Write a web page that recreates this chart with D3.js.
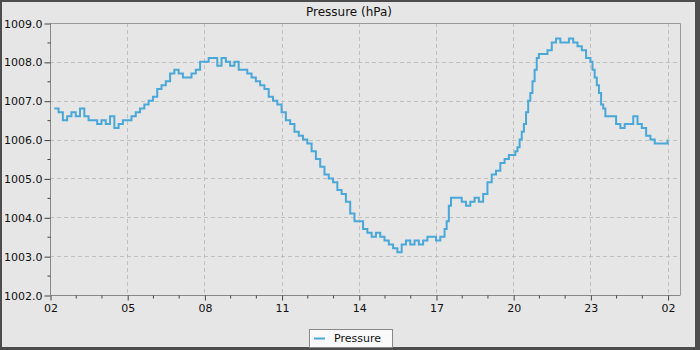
<!DOCTYPE html>
<html>
<head>
<meta charset="utf-8">
<script src="https://cdn.jsdelivr.net/npm/d3@7"></script>
<style>
  html, body { margin: 0; padding: 0; background: #4d4d4d; }
  svg { display: block; font-family: "DejaVu Sans", sans-serif; }
</style>
</head>
<body>
<svg id="chart" width="700" height="350"></svg>
<script>
// Station pressure, one reading every 10 minutes starting 02:10 (hPa)
const seriesName = "Pressure";
const chartTitle = "Pressure (hPa)";
const firstReadingMinute = 10;   // minutes after 02:00
const readingStepMinutes = 10;
const pressure = [
  1006.8, 1006.7, 1006.5, 1006.6, 1006.7, 1006.6, 1006.8, 1006.6, 1006.5, 1006.5,
  1006.4, 1006.5, 1006.4, 1006.6, 1006.3, 1006.4, 1006.5, 1006.5, 1006.6, 1006.7,
  1006.8, 1006.9, 1007.0, 1007.1, 1007.3, 1007.4, 1007.5, 1007.7, 1007.8, 1007.7,
  1007.6, 1007.6, 1007.7, 1007.8, 1008.0, 1008.0, 1008.1, 1008.1, 1007.9, 1008.1,
  1008.0, 1007.9, 1008.0, 1007.8, 1007.8, 1007.7, 1007.6, 1007.5, 1007.4, 1007.3,
  1007.1, 1007.0, 1006.9, 1006.7, 1006.5, 1006.4, 1006.2, 1006.1, 1006.0, 1005.9,
  1005.7, 1005.5, 1005.3, 1005.1, 1005.0, 1004.9, 1004.7, 1004.6, 1004.4, 1004.1,
  1003.9, 1003.9, 1003.7, 1003.6, 1003.5, 1003.6, 1003.5, 1003.4, 1003.3, 1003.2,
  1003.1, 1003.3, 1003.4, 1003.3, 1003.4, 1003.3, 1003.4, 1003.5, 1003.5, 1003.4,
  1003.5, 1003.7, 1004.3, 1004.5, 1004.5, 1004.4, 1004.3, 1004.4, 1004.5, 1004.4,
  1004.6, 1004.9, 1005.1, 1005.2, 1005.4, 1005.5, 1005.6, 1005.6, 1005.8, 1006.2,
  1006.7, 1007.2, 1007.8, 1008.2, 1008.2, 1008.3, 1008.5, 1008.6, 1008.5, 1008.5,
  1008.6, 1008.5, 1008.4, 1008.3, 1008.1, 1008.0, 1007.6, 1007.2, 1006.8, 1006.6,
  1006.6, 1006.4, 1006.3, 1006.4, 1006.4, 1006.6, 1006.4, 1006.3, 1006.1, 1006.0,
  1005.9, 1005.9, 1005.9, 1006.0
];

// Additional 5-minute readings logged while pressure was changing quickly
const fastMinutes  = [925, 935, 1085, 1095, 1105, 1115, 1125, 1135, 1265, 1275, 1285, 1295];
const fastPressure = [1003.9, 1004.5, 1005.7, 1006.0, 1006.4, 1007.0, 1007.5, 1008.1, 1007.8, 1007.4, 1006.9, 1006.6];

// Axis ticks: minutes after 02:00 and their hour labels
const xTickMinutes = [0, 180, 360, 540, 720, 900, 1080, 1260, 1440];
const xTickLabels  = ["02", "05", "08", "11", "14", "17", "20", "23", "02"];
const xMinorMinutes = d3.range(0, 1469, 60);
const yTicks = [1002, 1003, 1004, 1005, 1006, 1007, 1008, 1009];
const yMinorTicks = [1002.5, 1003.5, 1004.5, 1005.5, 1006.5, 1007.5, 1008.5];

const data = pressure.map((v, i) => ({ t: firstReadingMinute + i * readingStepMinutes, v }))
  .concat(fastMinutes.map((t, i) => ({ t, v: fastPressure[i] })))
  .sort((a, b) => a.t - b.t);

const svg = d3.select("#chart");
const W = 700, H = 350;
const plot = { left: 50, top: 23, right: 680, bottom: 295 };

// Outer frame and panel background
svg.append("rect").attr("x", 0).attr("y", 0).attr("width", W).attr("height", H).attr("fill", "#4d4d4d");
svg.append("rect").attr("x", 2).attr("y", 2).attr("width", 693).attr("height", 345).attr("fill", "#e6e6e6");

const x = d3.scaleLinear().domain([0, 1469]).range([plot.left, plot.right]);
const y = d3.scaleLinear().domain([1002, 1009]).range([plot.bottom, plot.top]);

// Grid
const grid = svg.append("g").attr("stroke", "#c0c0c0").attr("stroke-width", 1).attr("stroke-dasharray", "4,3");
grid.selectAll("line.gx").data(xTickMinutes.slice(1)).join("line")
  .attr("x1", d => Math.round(x(d)) + 0.5).attr("x2", d => Math.round(x(d)) + 0.5)
  .attr("y1", plot.top).attr("y2", plot.bottom);
grid.selectAll("line.gy").data(yTicks.slice(1, -1)).join("line")
  .attr("y1", d => Math.round(y(d)) + 0.5).attr("y2", d => Math.round(y(d)) + 0.5)
  .attr("x1", plot.left).attr("x2", plot.right);

// Plot frame (top and right)
svg.append("path")
  .attr("d", `M${plot.left},${plot.top + 0.5}H${plot.right + 0.5}V${plot.bottom}`)
  .attr("fill", "none").attr("stroke", "#999").attr("stroke-width", 1);

// Axes
const xAxis = d3.axisBottom(x).tickValues(xTickMinutes)
  .tickFormat((d, i) => xTickLabels[i]).tickSize(5).tickPadding(4);
const gx = svg.append("g").attr("transform", `translate(0.5,${plot.bottom + 0.5})`).call(xAxis);
gx.append("g").selectAll("line").data(xMinorMinutes.filter(m => m % 180 !== 0)).join("line")
  .attr("x1", d => x(d)).attr("x2", d => x(d)).attr("y1", 0).attr("y2", 3);

const yAxis = d3.axisLeft(y).tickValues(yTicks).tickFormat(d3.format(".1f")).tickSize(6).tickPadding(2);
const gy = svg.append("g").attr("transform", `translate(${plot.left + 0.5},0.5)`).call(yAxis);
gy.append("g").selectAll("line").data(yMinorTicks).join("line")
  .attr("y1", d => y(d)).attr("y2", d => y(d)).attr("x1", 0).attr("x2", -3);

[gx, gy].forEach(g => {
  g.selectAll("path.domain").attr("stroke", "#888");
  g.selectAll("line").attr("stroke", "#444");
  g.selectAll("text").attr("fill", "#111").style("font-size", "11px").style("font-family", "DejaVu Sans");
});
gx.select("path.domain").attr("d", `M${plot.left},0H${plot.right}`);
gy.select("path.domain").attr("d", `M0,${plot.bottom}V${plot.top}`);

// Pressure trace
const line = d3.line().curve(d3.curveStepAfter).x(d => x(d.t)).y(d => y(d.v));
svg.append("path").datum(data)
  .attr("d", line)
  .attr("fill", "none").attr("stroke", "#4aa8d8").attr("stroke-width", 2);

// Title
svg.append("text").attr("x", 349).attr("y", 16).attr("text-anchor", "middle")
  .style("font-size", "12px").attr("fill", "#111").text(chartTitle);

// Legend
const lg = svg.append("g");
lg.append("rect").attr("x", 309.5).attr("y", 329.5).attr("width", 83).attr("height", 18)
  .attr("fill", "#fafafa").attr("stroke", "#888");
lg.append("line").attr("x1", 314).attr("x2", 325).attr("y1", 338.5).attr("y2", 338.5)
  .attr("stroke", "#4aa8d8").attr("stroke-width", 2);
lg.append("text").attr("x", 334).attr("y", 342).style("font-size", "11px").attr("fill", "#111").text(seriesName);
</script>
</body>
</html>
